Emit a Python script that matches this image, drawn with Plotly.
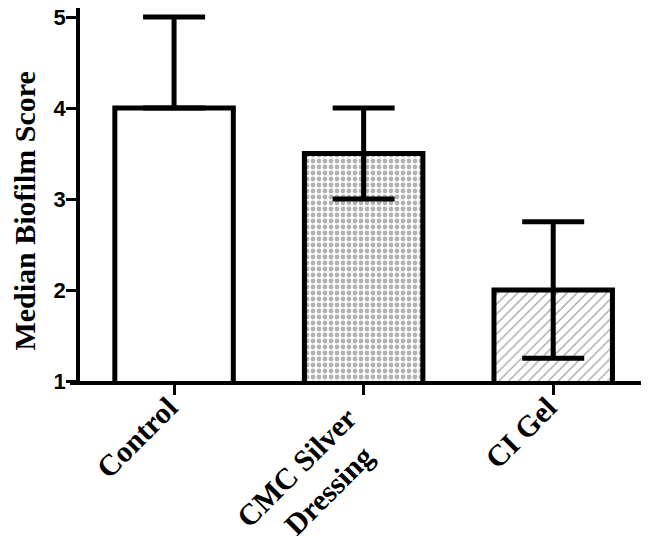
import plotly.graph_objects as go

categories = ["Control", "CMC Silver Dressing", "CI Gel"]
tick_text = [
    "Control\u00a0",
    "CMC Silver\u00a0\u00a0\u00a0<br>Dressing\u00a0\u00a0\u00a0\u00a0\u00a0",
    "CI Gel\u00a0",
]
median_score = [4, 3.5, 2]
err_upper = [1, 0.5, 0.75]
err_lower = [0, 0.5, 0.75]
y_ticks = [1, 2, 3, 4, 5]

fig = go.Figure(
    data=[
        go.Bar(
            x=categories,
            y=median_score,
            marker=dict(
                color="white",
                line=dict(color="black", width=5),
                pattern=dict(
                    shape=["", ".", "/"],
                    fgcolor=["#000000", "#666666", "#444444"],
                    bgcolor="white",
                    size=[8, 6, 7],
                    solidity=[0.1, 0.5, 0.18],
                    fillmode="overlay",
                ),
            ),
            error_y=dict(
                type="data",
                symmetric=False,
                array=err_upper,
                arrayminus=err_lower,
                color="black",
                thickness=5,
                width=31,
            ),
        )
    ]
)

# page body adds an 8px offset, so the figure is sized to fit the window
fig.update_layout(
    width=641,
    height=528,
    margin=dict(l=62, r=1, t=0, b=155),
    plot_bgcolor="white",
    paper_bgcolor="white",
    showlegend=False,
    bargap=0.375,
    annotations=[
        dict(
            text="Median Biofilm Score",
            textangle=-90,
            xref="paper",
            yref="paper",
            x=-0.079,
            y=0.455,
            xanchor="center",
            yanchor="middle",
            showarrow=False,
            font=dict(family="Liberation Serif", size=30, color="black", weight="bold"),
        )
    ],
)

fig.update_xaxes(
    range=[-0.549, 2.5],
    automargin=False,
    tickvals=categories,
    ticktext=tick_text,
    showline=True,
    linecolor="black",
    linewidth=3.5,
    ticks="outside",
    ticklen=10,
    tickwidth=3,
    tickcolor="black",
    tickangle=-45,
    ticklabelstandoff=-22,
    tickfont=dict(family="Liberation Serif", size=30, color="black", weight="bold"),
    showgrid=False,
    zeroline=False,
)

fig.update_yaxes(
    range=[1, 5.1],
    automargin=False,
    anchor="free",
    position=8 / 578,
    tickvals=y_ticks,
    showline=True,
    linecolor="black",
    linewidth=3.5,
    ticks="outside",
    ticklen=10,
    tickwidth=3,
    tickcolor="black",
    ticklabelstandoff=-4,
    ticklabeloverflow="allow",
    tickfont=dict(family="Liberation Sans", size=22, color="black", weight="bold"),
    showgrid=False,
    zeroline=False,
)

fig.write_html("out.html")
